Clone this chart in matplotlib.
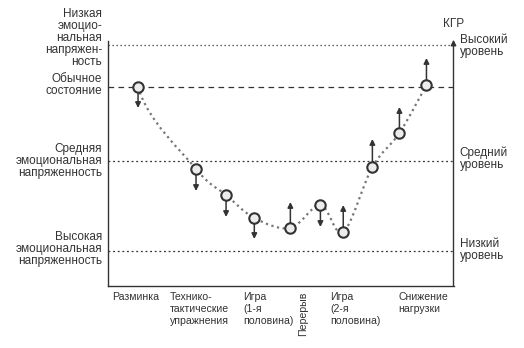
import numpy as np
import matplotlib
matplotlib.use("Agg")
import matplotlib.pyplot as plt
from matplotlib.path import Path
from matplotlib.patches import PathPatch

plt.rcParams['font.family'] = ['Liberation Sans', 'DejaVu Sans']

# точки кривой КГР (x - время занятия, y - уровень)
point_x = [1.0, 2.93, 3.93, 4.87, 6.07, 7.07, 7.83, 8.8, 9.7, 10.6]
point_y = [19.9, 11.7, 9.1, 6.8, 5.8, 8.1, 5.4, 11.9, 15.3, 20.1]
# стрелки: направление и длина изменения
arrow_dy = [-2.1, -2.2, -2.2, -2.1, 2.6, -2.2, 2.7, 2.8, 2.6, 2.7]

# уровни напряженности (горизонтальные линии)
level_y = [24.1, 19.9, 12.5, 3.5]
level_style = [(0, (1, 2.2)), (0, (4.5, 3.5)), (0, (1.5, 2.2)), (0, (1.5, 2.2))]

left_labels = ["Низкая\nэмоцио-\nнальная\nнапряжен-\nность",
               "Обычное\nсостояние",
               "Средняя\nэмоциональная\nнапряженность",
               "Высокая\nэмоциональная\nнапряженность"]
left_label_y = [24.8, 20.05, 12.5, 3.7]

right_labels = ["Высокий\nуровень", "Средний\nуровень", "Низкий\nуровень"]
right_label_y = [24.0, 12.7, 3.6]

phase_labels = ["Разминка", "Технико-\nтактические\nупражнения", "Игра\n(1-я\nполовина)",
                "Игра\n(2-я\nполовина)", "Снижение\nнагрузки"]
phase_x = [0.13, 2.07, 4.5, 7.4, 9.67]

dark = '#333333'

fig = plt.figure(figsize=(5.24, 3.48), dpi=100)
ax = fig.add_axes([108 / 524, 62 / 348, 345.5 / 524, 245 / 348])
ax.set_xlim(0, 11.5)
ax.set_ylim(0, 24.5)
ax.set_xticks([])
ax.set_yticks([])
for s in ['top', 'right']:
    ax.spines[s].set_visible(False)
for s in ['left', 'bottom']:
    ax.spines[s].set_color(dark)
    ax.spines[s].set_linewidth(1.0)

# правая ось со стрелкой
ax.annotate('', xy=(1, 1.005), xytext=(1, 0), xycoords='axes fraction',
            arrowprops=dict(arrowstyle='-|>', color=dark, lw=1.0,
                            mutation_scale=8, shrinkA=0, shrinkB=0))

for yv, ls in zip(level_y, level_style):
    ax.axhline(yv, color=dark, lw=0.9, linestyle=ls)

# сглаженная пунктирная кривая (Catmull-Rom -> Bezier)
pts = np.column_stack([point_x, point_y])
verts = [pts[0]]
codes = [Path.MOVETO]
for i in range(len(pts) - 1):
    p0 = pts[i - 1] if i > 0 else pts[i] + np.array([0.0, 12.0])
    p1 = pts[i]
    p2 = pts[i + 1]
    p3 = pts[i + 2] if i + 2 < len(pts) else pts[i + 1]
    verts += [p1 + (p2 - p0) / 6, p2 - (p3 - p1) / 6, p2]
    codes += [Path.CURVE4] * 3
ax.add_patch(PathPatch(Path(verts, codes), fill=False, edgecolor='#777777',
                       lw=1.6, linestyle=(0, (1, 1.6))))

# стрелки изменений
for x, y, dy in zip(point_x, point_y, arrow_dy):
    start = y + 0.5 * np.sign(dy)
    ax.annotate('', xy=(x, y + dy), xytext=(x, start),
                arrowprops=dict(arrowstyle='-|>', color=dark, lw=1.1,
                                mutation_scale=8, shrinkA=0, shrinkB=0))

ax.plot(point_x, point_y, 'o', ms=7.5, mfc='#ececec', mec=dark, mew=1.5, zorder=5)

# подписи слева
for txt, yv in zip(left_labels, left_label_y):
    ax.text(-0.2, yv, txt, ha='right', va='center', fontsize=8.5,
            color=dark, linespacing=1.0, clip_on=False)

# подписи справа
ax.text(11.5, 26.2, "КГР", ha='center', va='center', fontsize=8.5, color=dark, clip_on=False)
for txt, yv in zip(right_labels, right_label_y):
    ax.text(11.7, yv, txt, ha='left', va='center', fontsize=8.5,
            color=dark, linespacing=1.0, clip_on=False)

# подписи этапов
for txt, xv in zip(phase_labels, phase_x):
    ax.text(xv, -0.6, txt, ha='left', va='top', fontsize=7.6,
            color=dark, linespacing=1.25, clip_on=False)
ax.text(6.5, -0.6, "Перерыв", ha='center', va='top', rotation=90,
        fontsize=7.6, color=dark, clip_on=False)

fig.savefig('out.png', dpi=100)
